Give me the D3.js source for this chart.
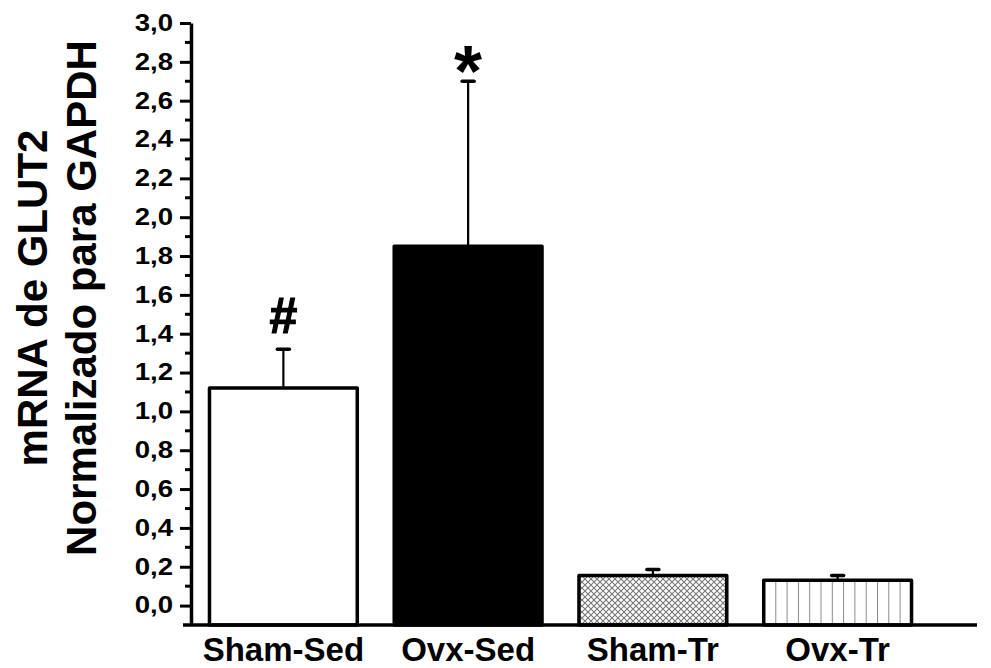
<!DOCTYPE html>
<html>
<head>
<meta charset="utf-8">
<script src="https://cdn.jsdelivr.net/npm/d3@7"></script>
<style>
  body { margin: 0; background: #fff; }
  svg text { font-family: "Liberation Sans", Arial, sans-serif; font-weight: bold; fill: #000; }
</style>
</head>
<body>
<div id="chart"></div>
<script>
// data
const groups = ["Sham-Sed", "Ovx-Sed", "Sham-Tr", "Ovx-Tr"];
const means = [1.12, 1.85, 0.155, 0.13];
const errTops = [1.32, 2.70, 0.186, 0.155];
const marks = ["#", "*", "", ""];
const yTicks = [0.0, 0.2, 0.4, 0.6, 0.8, 1.0, 1.2, 1.4, 1.6, 1.8, 2.0, 2.2, 2.4, 2.6, 2.8, 3.0];
const yMinor = [0.1, 0.3, 0.5, 0.7, 0.9, 1.1, 1.3, 1.5, 1.7, 1.9, 2.1, 2.3, 2.5, 2.7, 2.9];
const yLabel = ["mRNA de GLUT2", "Normalizado para GAPDH"];

const width = 991, height = 668;
const plotLeft = 191, plotRight = 977, plotTop = 23, plotBottom = 625;

const svg = d3.select("#chart").append("svg")
  .attr("width", width)
  .attr("height", height);

// fill patterns for the trained groups
const defs = svg.append("defs");
const hatch = defs.append("pattern")
  .attr("id", "cross")
  .attr("patternUnits", "userSpaceOnUse")
  .attr("width", 6).attr("height", 6);
hatch.append("path")
  .attr("d", "M0,0L6,6M6,0L0,6")
  .attr("stroke", "#777").attr("stroke-width", 1.1);

const vlines = defs.append("pattern")
  .attr("id", "vlines")
  .attr("patternUnits", "userSpaceOnUse")
  .attr("width", 11.3).attr("height", 10)
  .attr("x", 764);
vlines.append("line")
  .attr("x1", 0).attr("x2", 0).attr("y1", 0).attr("y2", 10)
  .attr("stroke", "#888").attr("stroke-width", 2);

const fills = ["#fff", "#000", "url(#cross)", "url(#vlines)"];

const x = d3.scaleBand()
  .domain(groups)
  .range([plotLeft, 930])
  .paddingInner(0.2)
  .paddingOuter(0.1);

const y = d3.scaleLinear()
  .domain([-0.1, 3.0])
  .range([plotBottom, plotTop]);

const fmt = d3.formatLocale({ decimal: ",", thousands: ".", grouping: [3], currency: ["", ""] }).format(".1f");

// bars
svg.selectAll("rect.bar")
  .data(groups)
  .enter()
  .append("rect")
  .attr("class", "bar")
  .attr("x", d => x(d))
  .attr("width", x.bandwidth())
  .attr("y", (d, i) => y(means[i]))
  .attr("height", (d, i) => y(-0.1) - y(means[i]))
  .attr("fill", (d, i) => fills[i])
  .attr("stroke", "#000")
  .attr("stroke-width", 3.5)
  .attr("stroke-linejoin", "round");

// upper error bars
const err = svg.selectAll("g.err")
  .data(groups)
  .enter()
  .append("g")
  .attr("class", "err");
err.append("line")
  .attr("x1", d => x(d) + x.bandwidth() / 2)
  .attr("x2", d => x(d) + x.bandwidth() / 2)
  .attr("y1", (d, i) => y(means[i]))
  .attr("y2", (d, i) => y(errTops[i]))
  .attr("stroke", "#000").attr("stroke-width", 2.2);
err.append("line")
  .attr("x1", d => x(d) + x.bandwidth() / 2 - 6)
  .attr("x2", d => x(d) + x.bandwidth() / 2 + 6)
  .attr("y1", (d, i) => y(errTops[i]))
  .attr("y2", (d, i) => y(errTops[i]))
  .attr("stroke", "#000").attr("stroke-width", 3.5)
  .attr("stroke-linecap", "round");

// significance marks
svg.selectAll("text.mark")
  .data(groups)
  .enter()
  .append("text")
  .attr("class", "mark")
  .attr("x", d => x(d) + x.bandwidth() / 2)
  .attr("y", (d, i) => marks[i] === "*" ? y(errTops[i]) + 15 : y(errTops[i]) - 16)
  .attr("text-anchor", "middle")
  .style("font-size", (d, i) => marks[i] === "*" ? "72px" : "50px")
  .style("stroke", "#000")
  .style("stroke-width", (d, i) => marks[i] === "#" ? 1.2 : 0)
  .text((d, i) => marks[i]);

// y axis
const yAxis = svg.append("g")
  .attr("transform", "translate(" + plotLeft + ",0)")
  .call(d3.axisLeft(y).tickValues(yTicks).tickFormat(fmt).tickSize(11).tickSizeOuter(0));
yAxis.select(".domain").attr("stroke", "#000").attr("stroke-width", 3.5);
yAxis.selectAll(".tick line").attr("stroke", "#000").attr("stroke-width", 3);
yAxis.selectAll(".tick text")
  .attr("transform", "scale(1.2,1)")
  .attr("x", -18 / 1.2)
  .style("font-size", "23px")
  .style("font-family", "'Liberation Sans', Arial, sans-serif")
  .style("font-weight", "bold");

svg.append("g")
  .selectAll("line")
  .data(yMinor)
  .enter()
  .append("line")
  .attr("x1", plotLeft - 6).attr("x2", plotLeft)
  .attr("y1", d => y(d)).attr("y2", d => y(d))
  .attr("stroke", "#000").attr("stroke-width", 3);

// bottom axis line
svg.append("line")
  .attr("x1", plotLeft - 8).attr("x2", plotRight)
  .attr("y1", plotBottom).attr("y2", plotBottom)
  .attr("stroke", "#000").attr("stroke-width", 3.5);

// category labels
svg.selectAll("text.cat")
  .data(groups)
  .enter()
  .append("text")
  .attr("class", "cat")
  .attr("x", d => x(d) + x.bandwidth() / 2)
  .attr("y", 661)
  .attr("text-anchor", "middle")
  .style("font-size", "33px")
  .text(d => d);

// y label, two lines
svg.append("text")
  .attr("transform", "translate(47,298) rotate(-90)")
  .attr("text-anchor", "middle")
  .style("font-size", "42px")
  .text(yLabel[0]);
svg.append("text")
  .attr("transform", "translate(96,298) rotate(-90)")
  .attr("text-anchor", "middle")
  .style("font-size", "42px")
  .text(yLabel[1]);
</script>
</body>
</html>
